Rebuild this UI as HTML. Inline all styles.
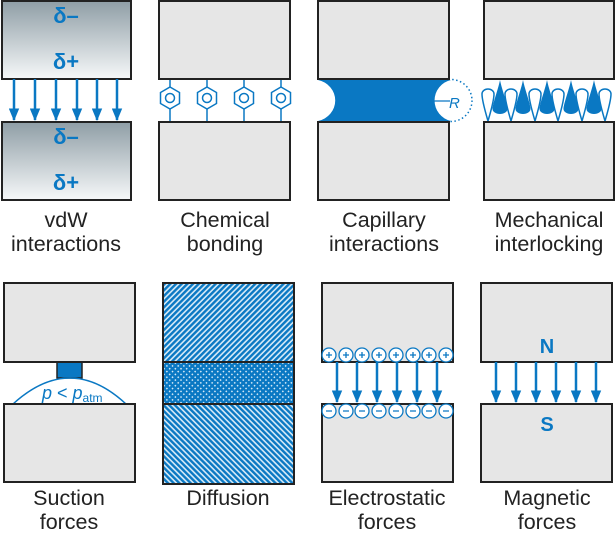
<!DOCTYPE html>
<html><head><meta charset="utf-8"><style>
html,body{margin:0;padding:0;background:#fff;}
svg{display:block;}
text{font-family:"Liberation Sans",sans-serif;}
.lbl{font-size:21.5px;fill:#222;text-anchor:middle;}
.box{fill:#e6e6e6;stroke:#222;stroke-width:2;}
</style></head><body>
<svg width="616" height="534" viewBox="0 0 616 534" xmlns="http://www.w3.org/2000/svg">
<defs>
<linearGradient id="g" x1="0" y1="0" x2="0" y2="1">
<stop offset="0" stop-color="#8f9ea6"/><stop offset="1" stop-color="#f6f8f9"/></linearGradient>
<marker id="ah" viewBox="0 0 12 10" refX="11" refY="5" markerWidth="5" markerHeight="4.2" orient="auto"><path d="M0,0 L12,5 L0,10 z" fill="#0a78c3"/></marker>
<pattern id="p1" width="4" height="4" patternUnits="userSpaceOnUse" patternTransform="rotate(45)"><rect width="4" height="4" fill="#d8ebf7"/><rect width="2.4" height="4" fill="#0a78c3"/></pattern>
<pattern id="p2" width="4" height="4" patternUnits="userSpaceOnUse" patternTransform="rotate(-45)"><rect width="4" height="4" fill="#d8ebf7"/><rect width="2.4" height="4" fill="#0a78c3"/></pattern>
<pattern id="p3" width="4" height="4" patternUnits="userSpaceOnUse" patternTransform="rotate(45)"><rect width="4" height="4" fill="#0a78c3"/><rect width="1.5" height="1.5" fill="#d8ebf7"/></pattern>
<g id="hex"><polygon points="0,-11 9.5,-5.5 9.5,5.5 0,11 -9.5,5.5 -9.5,-5.5" fill="#fff" stroke="#0a78c3" stroke-width="1.5"/><circle r="4.5" fill="none" stroke="#0a78c3" stroke-width="1.5"/></g>
<path id="ft" d="M0,0 C-2,10 -7.5,24 -7.5,29 A7.5,5 0 0 0 7.5,29 C7.5,24 2,10 0,0 Z" fill="#0a78c3"/>
<path id="ot" d="M0,32 C-2,25 -6,12 -6,5 A6,5 0 0 1 6,5 C6,12 2,25 0,32 Z" fill="#fff" stroke="#0a78c3" stroke-width="1.5"/>
</defs>

<!-- vdW -->
<rect class="box" x="2" y="1" width="129" height="78" style="fill:url(#g)"/>
<rect class="box" x="2" y="122" width="129" height="78" style="fill:url(#g)"/>
<g fill="#0a78c3" font-weight="bold" font-size="22" text-anchor="middle">
<text x="66" y="23">δ–</text><text x="66" y="69">δ+</text>
<text x="66" y="144">δ–</text><text x="66" y="190">δ+</text></g>
<g stroke="#0a78c3" stroke-width="2.5" marker-end="url(#ah)">
<line x1="14" y1="79" x2="14" y2="120"/><line x1="35" y1="79" x2="35" y2="120"/><line x1="56" y1="79" x2="56" y2="120"/><line x1="77" y1="79" x2="77" y2="120"/><line x1="97" y1="79" x2="97" y2="120"/><line x1="117" y1="79" x2="117" y2="120"/></g>
<text class="lbl" x="66" y="227">vdW</text><text class="lbl" x="66" y="251">interactions</text>

<!-- Chemical -->
<g stroke="#0a78c3" stroke-width="1.5">
<line x1="170" y1="79" x2="170" y2="122"/><line x1="207" y1="79" x2="207" y2="122"/><line x1="244" y1="79" x2="244" y2="122"/><line x1="281" y1="79" x2="281" y2="122"/></g>
<use href="#hex" x="170" y="98"/><use href="#hex" x="207" y="98"/><use href="#hex" x="244" y="98"/><use href="#hex" x="281" y="98"/>
<rect class="box" x="159" y="1" width="131" height="78"/>
<rect class="box" x="159" y="122" width="131" height="78"/>
<text class="lbl" x="225" y="227">Chemical</text><text class="lbl" x="225" y="251">bonding</text>

<!-- Capillary -->
<path d="M318,80 L451,80 A21,21 0 0 0 451,121 L318,121 A22,21 0 0 0 318,80 Z" fill="#0a78c3"/>
<circle cx="451" cy="100.5" r="21" fill="none" stroke="#0a78c3" stroke-width="1.5" stroke-dasharray="1.5,2.5"/>
<line x1="430" y1="101" x2="450" y2="101" stroke="#0a78c3" stroke-width="1.3"/>
<text x="449" y="108" fill="#0a78c3" font-style="italic" font-size="15">R</text>
<rect class="box" x="318" y="1" width="131" height="78"/>
<rect class="box" x="318" y="122" width="131" height="78"/>
<text class="lbl" x="384" y="227">Capillary</text><text class="lbl" x="384" y="251">interactions</text>

<!-- Mechanical -->
<use href="#ot" x="488" y="89"/><use href="#ot" x="511" y="89"/><use href="#ot" x="535" y="89"/><use href="#ot" x="558" y="89"/><use href="#ot" x="582" y="89"/><use href="#ot" x="605" y="89"/>
<use href="#ft" x="500" y="80"/><use href="#ft" x="523" y="80"/><use href="#ft" x="547" y="80"/><use href="#ft" x="571" y="80"/><use href="#ft" x="594" y="80"/>
<rect class="box" x="484" y="1" width="130" height="78"/>
<rect class="box" x="484" y="122" width="130" height="78"/>
<text class="lbl" x="549" y="227">Mechanical</text><text class="lbl" x="549" y="251">interlocking</text>

<!-- Suction -->
<rect x="57" y="362" width="25" height="16" fill="#0a78c3" stroke="#222" stroke-width="1.5"/>
<path d="M13,404 Q70,352 126,404" fill="none" stroke="#0a78c3" stroke-width="1.5"/>
<text x="42" y="399" fill="#0a78c3" font-size="18"><tspan font-style="italic">p</tspan> &lt; <tspan font-style="italic">p</tspan><tspan font-size="12" dy="3">atm</tspan></text>
<rect class="box" x="4" y="283" width="131" height="79"/>
<rect class="box" x="4" y="404" width="131" height="78"/>
<text class="lbl" x="69" y="505">Suction</text><text class="lbl" x="69" y="529">forces</text>

<!-- Diffusion -->
<rect x="163" y="283" width="131" height="79" fill="url(#p1)"/>
<rect x="163" y="362" width="131" height="42" fill="url(#p3)"/>
<rect x="163" y="404" width="131" height="80" fill="url(#p2)"/>
<rect x="163" y="283" width="131" height="201" fill="none" stroke="#222" stroke-width="2"/>
<line x1="163" y1="362" x2="294" y2="362" stroke="#222" stroke-width="2"/>
<line x1="163" y1="404" x2="294" y2="404" stroke="#222" stroke-width="2"/>
<text class="lbl" x="228" y="505">Diffusion</text>

<!-- Electrostatic -->
<rect class="box" x="322" y="283" width="131" height="79"/>
<rect class="box" x="322" y="404" width="131" height="78"/>
<g stroke="#0a78c3" stroke-width="2.5" marker-end="url(#ah)">
<line x1="337" y1="362" x2="337" y2="402"/><line x1="357" y1="362" x2="357" y2="402"/><line x1="377" y1="362" x2="377" y2="402"/><line x1="397" y1="362" x2="397" y2="402"/><line x1="417" y1="362" x2="417" y2="402"/><line x1="437" y1="362" x2="437" y2="402"/></g>
<g fill="#fff" stroke="#0a78c3" stroke-width="1.3">
<circle cx="329" cy="355" r="7"/><circle cx="346" cy="355" r="7"/><circle cx="362" cy="355" r="7"/><circle cx="379" cy="355" r="7"/><circle cx="396" cy="355" r="7"/><circle cx="413" cy="355" r="7"/><circle cx="429" cy="355" r="7"/><circle cx="446" cy="355" r="7"/>
<circle cx="329" cy="411" r="7"/><circle cx="346" cy="411" r="7"/><circle cx="362" cy="411" r="7"/><circle cx="379" cy="411" r="7"/><circle cx="396" cy="411" r="7"/><circle cx="413" cy="411" r="7"/><circle cx="429" cy="411" r="7"/><circle cx="446" cy="411" r="7"/></g>
<g stroke="#0a78c3" stroke-width="1.3">
<path d="M326,355h6M329,352v6M343,355h6M346,352v6M359,355h6M362,352v6M376,355h6M379,352v6M393,355h6M396,352v6M410,355h6M413,352v6M426,355h6M429,352v6M443,355h6M446,352v6"/>
<path d="M326,411h6M343,411h6M359,411h6M376,411h6M393,411h6M410,411h6M426,411h6M443,411h6"/></g>
<text class="lbl" x="387" y="505">Electrostatic</text><text class="lbl" x="387" y="529">forces</text>

<!-- Magnetic -->
<rect class="box" x="481" y="283" width="131" height="79"/>
<rect class="box" x="481" y="404" width="131" height="78"/>
<g stroke="#0a78c3" stroke-width="2.5" marker-end="url(#ah)">
<line x1="496" y1="362" x2="496" y2="402"/><line x1="516" y1="362" x2="516" y2="402"/><line x1="536" y1="362" x2="536" y2="402"/><line x1="556" y1="362" x2="556" y2="402"/><line x1="576" y1="362" x2="576" y2="402"/><line x1="596" y1="362" x2="596" y2="402"/></g>
<g fill="#0a78c3" font-weight="bold" font-size="20" text-anchor="middle"><text x="547" y="353">N</text><text x="547" y="431">S</text></g>
<text class="lbl" x="547" y="505">Magnetic</text><text class="lbl" x="547" y="529">forces</text>
</svg>
</body></html>
